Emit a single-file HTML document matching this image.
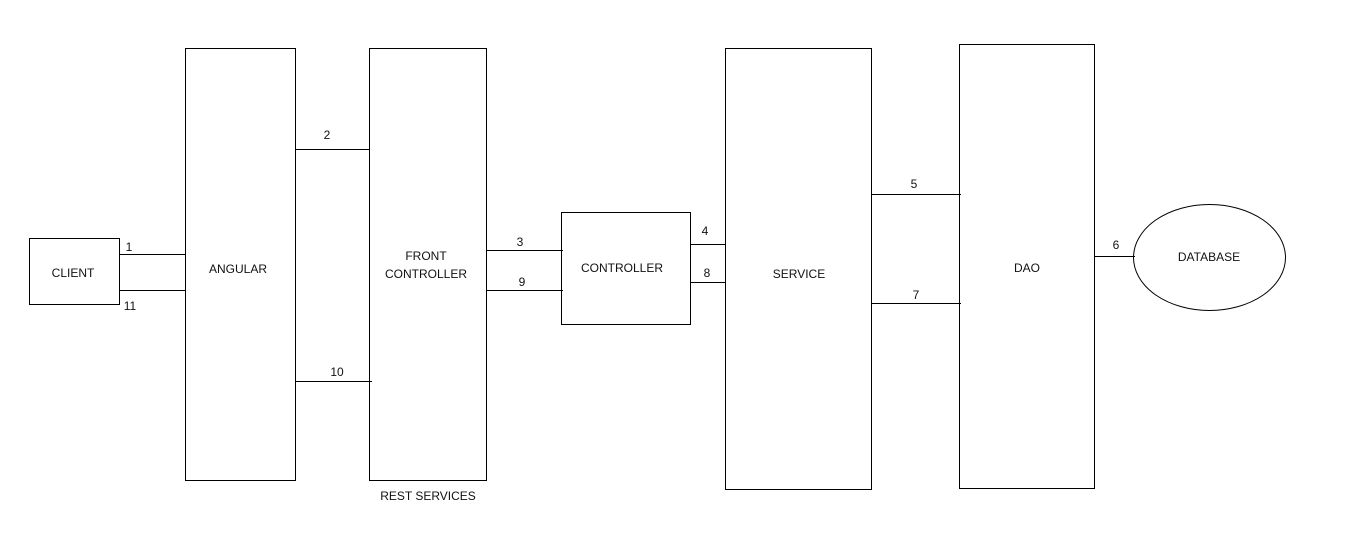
<!DOCTYPE html>
<html><head><meta charset="utf-8"><style>
html,body{margin:0;padding:0;background:#fff;}
svg{display:block}
text{font-family:"Liberation Sans",sans-serif;font-size:12px;fill:#111;}
</style></head><body>
<svg width="1347" height="560" viewBox="0 0 1347 560" xmlns="http://www.w3.org/2000/svg">
<g fill="none" stroke="#000" stroke-width="1">
<rect x="29.5" y="238.5" width="90" height="66"/>
<rect x="185.5" y="48.5" width="110" height="432"/>
<rect x="369.5" y="48.5" width="117" height="432"/>
<rect x="561.5" y="212.5" width="129" height="112"/>
<rect x="725.5" y="48.5" width="146" height="441"/>
<rect x="959.5" y="44.5" width="135" height="444"/>
<ellipse cx="1209.5" cy="257.5" rx="76" ry="53"/>
<path d="M119 254.5H185M119 290.5H185M295 149.5H369M295 381.5H372M486 250.5H563M486 290.5H563M690 244.5H725M690 282.5H725M871 194.5H961M871 303.5H961M1094 256.5H1135"/>
</g>
<g text-anchor="middle">
<text x="73" y="277">CLIENT</text>
<text x="238" y="273">ANGULAR</text>
<text x="426" y="260">FRONT</text>
<text x="426" y="278">CONTROLLER</text>
<text x="622" y="272">CONTROLLER</text>
<text x="799" y="278">SERVICE</text>
<text x="1027" y="272">DAO</text>
<text x="1209" y="261">DATABASE</text>
<text x="428" y="500">REST SERVICES</text>
<text x="129" y="251">1</text>
<text x="130" y="310">11</text>
<text x="327" y="139">2</text>
<text x="337" y="376">10</text>
<text x="520" y="246">3</text>
<text x="522" y="286">9</text>
<text x="705" y="235">4</text>
<text x="707" y="277">8</text>
<text x="914" y="188">5</text>
<text x="916" y="299">7</text>
<text x="1116" y="249">6</text>
</g>
</svg>
</body></html>
